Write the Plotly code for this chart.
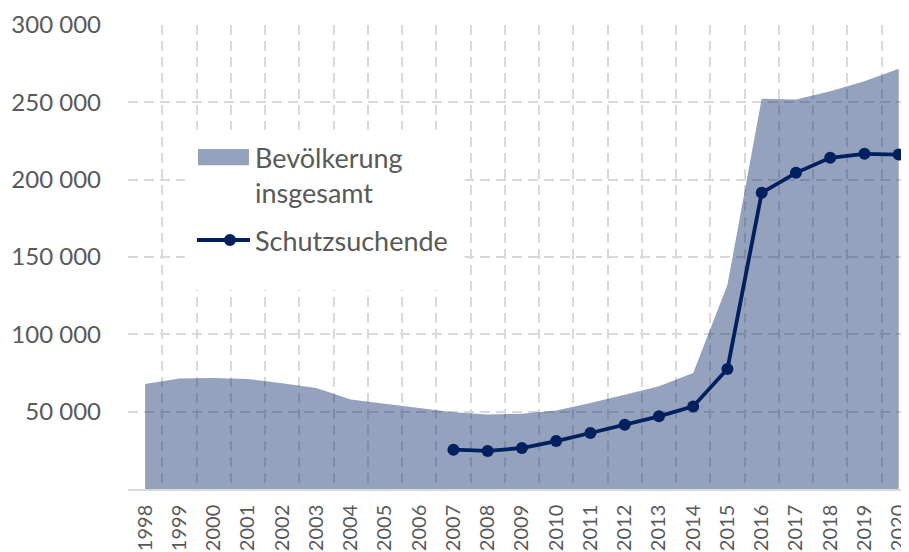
import plotly.graph_objects as go

years = list(range(1998, 2021))
bevoelkerung = [67900, 71500, 71800, 71150, 68300, 65300, 57800, 55200, 52400, 49600,
                48100, 48700, 50700, 55600, 61000, 66400, 75000, 132000, 252300, 251800,
                257200, 263600, 271700]
schutz_years = list(range(2007, 2021))
schutzsuchende = [25400, 24600, 26500, 31000, 36200, 41600, 47000, 53400, 77600,
                  191500, 204400, 214100, 216700, 216200]
y_ticks = [50000, 100000, 150000, 200000, 250000, 300000]
y_ticktext = ["50 000", "100 000", "150 000", "200 000", "250 000", "300 000"]

FONT = "Lato"
TXT = "#595959"
NAVY = "#002060"
FILL = "rgba(0,32,96,0.415)"
GRID = "#d9d9d9"

fig = go.Figure()
fig.add_trace(go.Scatter(x=years, y=bevoelkerung, mode="lines", fill="tozeroy",
                         fillcolor=FILL, line=dict(width=0, color=FILL),
                         name="Bevölkerung insgesamt", showlegend=False, hoverinfo="x+y"))
fig.add_trace(go.Scatter(x=schutz_years, y=schutzsuchende, mode="lines+markers",
                         line=dict(color=NAVY, width=3.8), marker=dict(color=NAVY, size=12),
                         name="Schutzsuchende", showlegend=False))

# legend (drawn manually, paper coordinates)
fig.add_shape(type="rect", xref="paper", yref="paper", x0=0.073, x1=0.431, y0=0.429, y1=0.774,
              fillcolor="white", line=dict(width=0), layer="above")
fig.add_shape(type="rect", xref="paper", yref="paper", x0=0.0896, x1=0.1549, y0=0.698, y1=0.733,
              fillcolor=FILL, line=dict(width=0), layer="above")
fig.add_shape(type="line", xref="paper", yref="paper", x0=0.0883, x1=0.1562, y0=0.5366, y1=0.5366,
              line=dict(color=NAVY, width=3.8), layer="above")
fig.add_shape(type="circle", xref="paper", yref="paper", x0=0.1229, x1=0.1383, y0=0.5237, y1=0.5496,
              fillcolor=NAVY, line=dict(width=0), layer="above")
for txt, yy in [("Bevölkerung", 0.7155), ("insgesamt", 0.640), ("Schutzsuchende", 0.5345)]:
    fig.add_annotation(text=txt, xref="paper", yref="paper", x=0.160, y=yy, xanchor="left",
                       yanchor="middle", showarrow=False, font=dict(family=FONT, size=27, color=TXT))

# page body adds an 8px offset, so the figure is sized to the visible window area
fig.update_layout(
    width=901, height=544,
    margin=dict(l=120, r=0, t=17, b=63),
    paper_bgcolor="white", plot_bgcolor="white",
    font=dict(family=FONT, size=24, color=TXT),
    showlegend=False,
)
fig.update_xaxes(
    range=[1997.5, 2020.3], tickvals=years, ticktext=[str(y) for y in years],
    tickangle=-90, ticks="", showgrid=False, zeroline=False, automargin=False,
    showline=True, linecolor=GRID, linewidth=1.5,
    ticklabelstandoff=6, ticklabeloverflow="allow",
    minor=dict(tick0=1997.5, dtick=1, showgrid=True, gridcolor=GRID, gridwidth=1.5,
               griddash="10px,6px", ticks=""),
    tickfont=dict(family=FONT, size=20, color=TXT),
)
fig.update_yaxes(
    range=[0, 300000], tickvals=y_ticks, ticktext=y_ticktext, ticks="",
    showgrid=True, gridcolor=GRID, gridwidth=1.5, griddash="10px,6px", automargin=False,
    zeroline=False, showline=False, ticklabelstandoff=26,
    tickfont=dict(family=FONT, size=24, color=TXT),
)

fig.write_html("out.html")
